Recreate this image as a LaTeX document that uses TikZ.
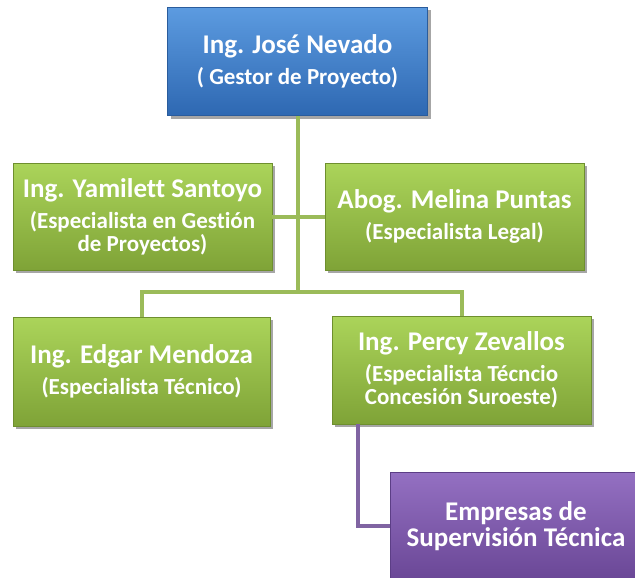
\documentclass[tikz,border=0pt]{standalone}
\usepackage{fontspec}
\setmainfont{Carlito}[Ligatures=NoCommon]
\usetikzlibrary{shadows}
\definecolor{gTop}{HTML}{ABD45A}
\definecolor{gBot}{HTML}{7FA337}
\definecolor{gEdge}{HTML}{6E8F2E}
\definecolor{bTop}{HTML}{5C9BE0}
\definecolor{bBot}{HTML}{2E68B2}
\definecolor{bEdge}{HTML}{2A5C9C}
\definecolor{pTop}{HTML}{9470C2}
\definecolor{pBot}{HTML}{6A4796}
\definecolor{pEdge}{HTML}{5C3E86}
\definecolor{gLine}{HTML}{9BBB59}
\definecolor{pLine}{HTML}{8064A2}
\newcommand\ttl[1]{{\fontsize{27}{23}\selectfont #1}}
\tikzset{
  box/.style={rectangle, minimum width=259pt, minimum height=107pt, inner sep=0pt,
    align=center, text=white, font=\bfseries\fontsize{23}{23}\selectfont,
    line width=0.8pt,
    drop shadow={shadow xshift=3pt, shadow yshift=-3pt, opacity=0.35, fill=black}},
  greenbox/.style={box, top color=gTop, bottom color=gBot, draw=gEdge},
  bluebox/.style={box, top color=bTop, bottom color=bBot, draw=bEdge},
  purplebox/.style={box, top color=pTop, bottom color=pBot, draw=pEdge},
  gconn/.style={draw=gLine, line width=4pt},
  pconn/.style={draw=pLine, line width=4pt},
}
\begin{document}
\begin{tikzpicture}[x=1pt,y=-1pt]
\useasboundingbox (0,0) rectangle (635,578);
\clip (0,0) rectangle (635,578);
\fill[white] (0,0) rectangle (635,578);
\coordinate (j1) at (297.5,292);
\coordinate (ptap) at (358,424);
\node[bluebox, minimum width=260pt, minimum height=108pt] (top) at (297.5,61.5)
  {\ttl{Ing. José Nevado}\\[8pt]( Gestor de Proyecto)};
\node[greenbox] (yam) at (142.5,216.5)
  {\ttl{Ing. Yamilett Santoyo}\\[8pt](Especialista en Gestión\\de Proyectos)};
\node[greenbox] (mel) at (454.5,216.5)
  {\ttl{Abog. Melina Puntas}\\[8pt](Especialista Legal)};
\node[greenbox, minimum width=257pt, minimum height=109pt] (edg) at (141.5,371.5)
  {\ttl{Ing. Edgar Mendoza}\\[8pt](Especialista Técnico)};
\node[greenbox, minimum height=108pt] (per) at (461.5,370)
  {\ttl{Ing. Percy Zevallos}\\[8pt](Especialista Técncio\\Concesión Suroeste)};
\node[purplebox, minimum width=252pt, minimum height=108pt] (pur) at (516,526)
  {\ttl{Empresas de}\\[2pt]\ttl{Supervisión Técnica}};
\draw[gconn] (top.south) -- (j1);
\draw[gconn] (yam.east) -- (mel.west);
\draw[gconn] (edg.north) |- (j1) -| (per.north);
\draw[pconn] (ptap) |- (pur.west);
\end{tikzpicture}
\end{document}
